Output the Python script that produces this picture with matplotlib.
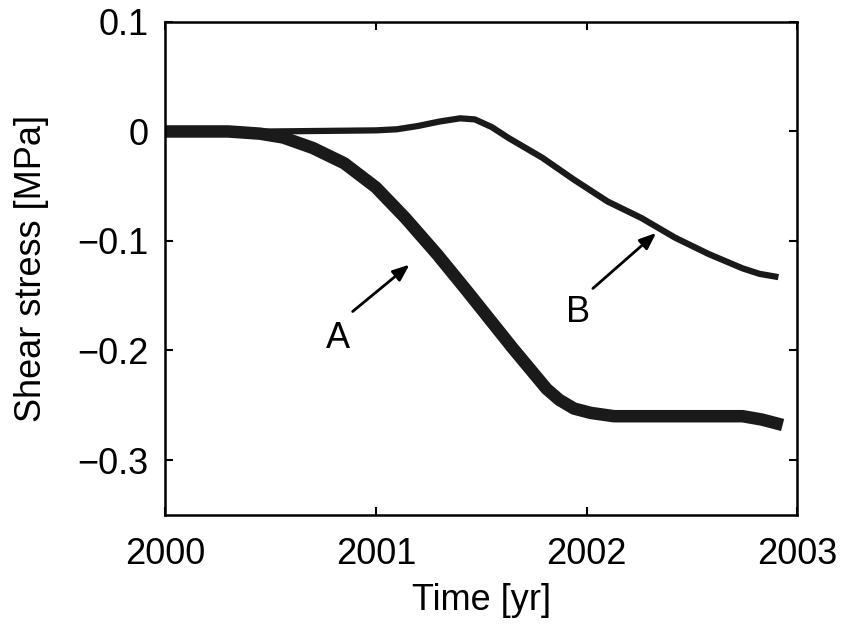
import numpy as np
from matplotlib import pyplot as plt

# curve A (thick line)
year_a = [2000.0, 2000.3, 2000.45, 2000.56, 2000.7, 2000.85, 2001.0, 2001.14,
          2001.29, 2001.43, 2001.65, 2001.81, 2001.87, 2001.94,
          2002.02, 2002.13, 2002.3, 2002.45, 2002.6, 2002.74, 2002.83, 2002.93]
stress_a = [0.0, 0.0, -0.002, -0.0055, -0.015, -0.029, -0.051, -0.079,
            -0.112, -0.145, -0.198, -0.235, -0.245, -0.253,
            -0.257, -0.26, -0.26, -0.26, -0.26, -0.26, -0.263, -0.268]

# curve B (thin line)
year_b = [2000.0, 2000.5, 2001.0, 2001.1, 2001.2, 2001.3, 2001.40, 2001.47,
          2001.55, 2001.63, 2001.71, 2001.79, 2001.94, 2002.10, 2002.26,
          2002.42, 2002.58, 2002.74, 2002.82, 2002.91]
stress_b = [0.0, 0.0, 0.001, 0.002, 0.005, 0.009, 0.012, 0.011,
            0.004, -0.006, -0.015, -0.024, -0.044, -0.064, -0.079,
            -0.097, -0.112, -0.125, -0.13, -0.133]

x_ticks = [2000, 2001, 2002, 2003]
y_ticks = [-0.3, -0.2, -0.1, 0, 0.1]
y_tick_labels = ['\u22120.3', '\u22120.2', '\u22120.1', '0', '0.1']

plt.rcParams['font.family'] = ['Liberation Sans', 'DejaVu Sans']

fig = plt.figure(figsize=(8.42, 6.27), dpi=100)
ax = fig.add_axes([0.196, 0.179, 0.751, 0.786])

ax.plot(year_a, stress_a, color='#1a1a1a', lw=9, solid_capstyle='butt',
        solid_joinstyle='round')
ax.plot(year_b, stress_b, color='#1a1a1a', lw=4.5, solid_capstyle='butt',
        solid_joinstyle='round')

ax.set_xlim(2000, 2003)
ax.set_ylim(-0.35, 0.1)
ax.set_xticks(x_ticks)
ax.set_xticklabels([str(t) for t in x_ticks])
ax.set_yticks(y_ticks)
ax.set_yticklabels(y_tick_labels)
ax.tick_params(direction='in', top=True, right=True, length=6, width=1.5,
               labelsize=26)
ax.tick_params(axis='x', pad=16)
ax.tick_params(axis='y', pad=12)
for s in ax.spines.values():
    s.set_linewidth(1.8)

ax.set_xlabel('Time [yr]', fontsize=26, labelpad=8)
ax.set_ylabel('Shear stress [MPa]', fontsize=26, labelpad=20)

arrow = dict(arrowstyle='-|>,head_length=1.0,head_width=0.4', color='black', lw=2)
ax.annotate('', xy=(2001.17, -0.12), xytext=(2000.88, -0.166), arrowprops=arrow)
ax.text(2000.82, -0.189, 'A', fontsize=26, ha='center', va='center')
ax.annotate('', xy=(2002.34, -0.091), xytext=(2002.02, -0.145), arrowprops=arrow)
ax.text(2001.96, -0.165, 'B', fontsize=26, ha='center', va='center')

fig.savefig('out.png', dpi=100)
